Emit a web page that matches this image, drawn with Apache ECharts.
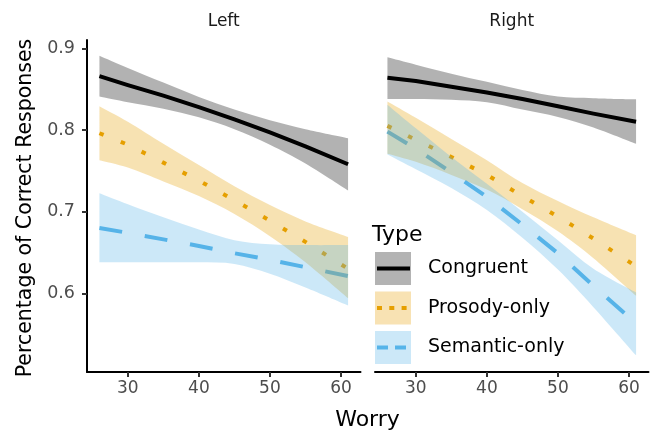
<!DOCTYPE html>
<html>
<head>
<meta charset="utf-8">
<script src="https://cdn.jsdelivr.net/npm/echarts@6/dist/echarts.min.js"></script>
<style>
html,body{margin:0;padding:0;background:#fff;}
#chart{width:656px;height:433px;}
</style>
</head>
<body>
<div id="chart"></div>
<script>
// ---- data ----
const worry = [26, 30, 35, 40, 45, 50, 55, 61];
const xTicks = [30, 40, 50, 60];
const yTicks = [0.6, 0.7, 0.8, 0.9];
const facets = ['Left', 'Right'];
const types = ['Congruent', 'Prosody-only', 'Semantic-only'];

// Left facet
const congLeft   = [0.866, 0.855, 0.842, 0.828, 0.813, 0.797, 0.780, 0.758];
const congLeftLo = [0.841, 0.834, 0.826, 0.8155, 0.801, 0.782, 0.759, 0.726];
const congLeftHi = [0.891, 0.876, 0.858, 0.8405, 0.825, 0.812, 0.801, 0.790];
const prosLeft   = [0.796, 0.782, 0.760, 0.738, 0.714, 0.689, 0.663, 0.630];
const prosLeftLo = [0.763, 0.754, 0.737, 0.719, 0.697, 0.670, 0.638, 0.594];
const prosLeftHi = [0.829, 0.810, 0.783, 0.757, 0.731, 0.708, 0.688, 0.669];
const semLeft    = [0.680, 0.674, 0.666, 0.658, 0.649, 0.641, 0.632, 0.621];
const semLeftLo  = [0.638, 0.638, 0.638, 0.638, 0.636, 0.624, 0.607, 0.585];
const semLeftHi  = [0.7225, 0.709, 0.693, 0.678, 0.665, 0.660, 0.659, 0.659];

// Right facet
const congRight   = [0.864, 0.860, 0.853, 0.846, 0.838, 0.829, 0.820, 0.810];
const congRightLo = [0.838, 0.838, 0.837, 0.834, 0.825, 0.816, 0.803, 0.783];
const congRightHi = [0.889, 0.880, 0.869, 0.859, 0.849, 0.841, 0.839, 0.8375];
const prosRight   = [0.805, 0.788, 0.767, 0.745, 0.719, 0.694, 0.667, 0.633];
const prosRightLo = [0.771, 0.761, 0.745, 0.727, 0.703, 0.676, 0.643, 0.597];
const prosRightHi = [0.835, 0.815, 0.789, 0.763, 0.735, 0.713, 0.693, 0.671];
const semRight    = [0.798, 0.777, 0.748, 0.718, 0.684, 0.649, 0.609, 0.563];
const semRightLo  = [0.770, 0.752, 0.729, 0.702, 0.668, 0.629, 0.583, 0.524];
const semRightHi  = [0.831, 0.802, 0.767, 0.734, 0.700, 0.665, 0.630, 0.601];

// ---- styling ----
const FONT = 'DejaVu Sans';
const lineColors = ['#000000', '#E69F00', '#56B4E9'];
const ribbonColors = ['rgba(0,0,0,0.3)', 'rgba(230,159,0,0.3)', 'rgba(86,180,233,0.3)'];
const keyFills = ['#b3b3b3', '#f8e2b3', '#cce8f8'];
const dashTypes = ['solid', [4.5, 18.5], [23, 23]];

const panels = [
  { mid: [congLeft, prosLeft, semLeft], lo: [congLeftLo, prosLeftLo, semLeftLo], hi: [congLeftHi, prosLeftHi, semLeftHi] },
  { mid: [congRight, prosRight, semRight], lo: [congRightLo, prosRightLo, semRightLo], hi: [congRightHi, prosRightHi, semRightHi] }
];

// Catmull-Rom spline through pixel points -> path commands
function splinePath(pts, start) {
  let d = start ? 'M' + pts[0][0] + ' ' + pts[0][1] : 'L' + pts[0][0] + ' ' + pts[0][1];
  for (let i = 0; i < pts.length - 1; i++) {
    const p0 = pts[Math.max(0, i - 1)], p1 = pts[i], p2 = pts[i + 1], p3 = pts[Math.min(pts.length - 1, i + 2)];
    const c1x = p1[0] + (p2[0] - p0[0]) / 6, c1y = p1[1] + (p2[1] - p0[1]) / 6;
    const c2x = p2[0] - (p3[0] - p1[0]) / 6, c2y = p2[1] - (p3[1] - p1[1]) / 6;
    d += ' C' + c1x + ' ' + c1y + ' ' + c2x + ' ' + c2y + ' ' + p2[0] + ' ' + p2[1];
  }
  return d;
}

const series = [];
panels.forEach((p, g) => {
  // lines first (ribbons are drawn over them, as in the original)
  p.mid.forEach((arr, k) => {
    series.push({
      type: 'line', name: types[k], xAxisIndex: g, yAxisIndex: g,
      data: worry.map((w, i) => [w, arr[i]]),
      symbol: 'none', silent: true, z: 2, smooth: false,
      lineStyle: { color: lineColors[k], width: 4, type: dashTypes[k], cap: 'butt', join: 'round' }
    });
  });
  p.mid.forEach((arr, k) => {
    const lo = p.lo[k], hi = p.hi[k];
    series.push({
      type: 'custom', name: types[k] + ' CI', xAxisIndex: g, yAxisIndex: g,
      silent: true, z: 3,
      data: [[worry[0], lo[0]]],
      renderItem: function (params, api) {
        const up = worry.map((w, i) => api.coord([w, hi[i]]));
        const dn = worry.map((w, i) => api.coord([w, lo[i]])).reverse();
        const d = splinePath(up, true) + ' ' + splinePath(dn, false) + ' Z';
        return { type: 'path', shape: { pathData: d }, style: { fill: ribbonColors[k], stroke: null } };
      }
    });
  });
});

const xMin = 24.25, xMax = 62.75, yMin = 0.5036, yMax = 0.9102;

function xAxisCfg(g) {
  return {
    type: 'value', gridIndex: g, min: xMin, max: xMax,
    axisLine: { show: true, onZero: false, lineStyle: { color: '#000', width: 2 } },
    axisTick: { show: true, length: 5, customValues: xTicks, lineStyle: { color: '#333', width: 2 } },
    axisLabel: { show: true, customValues: xTicks, margin: 8, color: '#4d4d4d', fontSize: 17, fontFamily: FONT },
    splitLine: { show: false }
  };
}

const option = {
  animation: false,
  backgroundColor: '#fff',
  grid: [
    { left: 87, top: 40, width: 273.5, height: 332 },
    { left: 375, top: 40, width: 273.5, height: 332 }
  ],
  xAxis: [xAxisCfg(0), xAxisCfg(1)],
  yAxis: [
    {
      type: 'value', gridIndex: 0, min: yMin, max: yMax,
      axisLine: { show: true, onZero: false, lineStyle: { color: '#000', width: 2 } },
      axisTick: { show: true, length: 5, customValues: yTicks, lineStyle: { color: '#333', width: 2 } },
      axisLabel: { show: true, customValues: yTicks, margin: 12, color: '#4d4d4d', fontSize: 17.5, fontFamily: FONT,
        formatter: v => Number(v).toFixed(1) },
      splitLine: { show: false }
    },
    {
      type: 'value', gridIndex: 1, min: yMin, max: yMax,
      axisLine: { show: false }, axisTick: { show: false }, axisLabel: { show: false }, splitLine: { show: false }
    }
  ],
  series: series,
  graphic: [
    // facet strips
    { type: 'text', x: 223.7, y: 22, style: { text: facets[0], align: 'center', verticalAlign: 'middle', textAlign: 'center', textVerticalAlign: 'middle', fill: '#1a1a1a', font: '17px "DejaVu Sans"' } },
    { type: 'text', x: 511.7, y: 22, style: { text: facets[1], align: 'center', verticalAlign: 'middle', textAlign: 'center', textVerticalAlign: 'middle', fill: '#1a1a1a', font: '17px "DejaVu Sans"' } },
    // axis titles
    { type: 'text', x: 367.5, y: 420, style: { text: 'Worry', align: 'center', verticalAlign: 'middle', textAlign: 'center', textVerticalAlign: 'middle', fill: '#000', font: '22px "DejaVu Sans"' } },
    { type: 'text', x: 26, y: 208, rotation: Math.PI / 2, style: { text: 'Percentage of Correct Responses', align: 'center', verticalAlign: 'middle', textAlign: 'center', textVerticalAlign: 'middle', fill: '#000', font: '20.5px "DejaVu Sans"' } },
    // legend
    { type: 'text', x: 372, y: 235, style: { text: 'Type', align: 'left', verticalAlign: 'middle', textAlign: 'left', textVerticalAlign: 'middle', fill: '#000', font: '22px "DejaVu Sans"' } },
    ...types.flatMap((t, k) => {
      const top = 252 + k * 39.5;
      const cy = top + 16.5;
      return [
        { type: 'rect', shape: { x: 375, y: top, width: 36, height: 33 }, style: { fill: keyFills[k] } },
        { type: 'line', shape: { x1: 377, y1: cy, x2: 410, y2: cy },
          style: { stroke: lineColors[k], lineWidth: 4, lineCap: 'butt',
                   lineDash: k === 0 ? null : (k === 1 ? [5, 7.3] : [11, 7]) } },
        { type: 'text', x: 428, y: cy, style: { text: t, align: 'left', verticalAlign: 'middle', textAlign: 'left', textVerticalAlign: 'middle', fill: '#000', font: '19px "DejaVu Sans"' } }
      ];
    })
  ]
};

const chart = echarts.init(document.getElementById('chart'), null, { renderer: 'canvas' });
chart.setOption(option);
</script>
</body>
</html>
